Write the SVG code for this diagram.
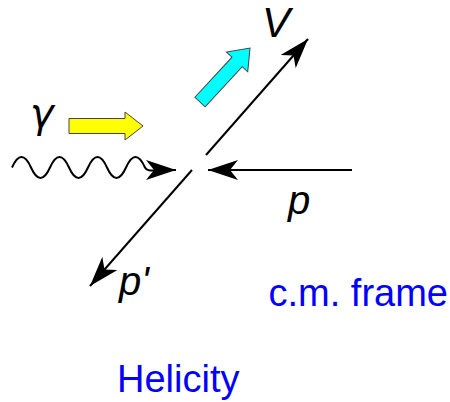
<svg xmlns="http://www.w3.org/2000/svg" width="450" height="402" viewBox="0 0 450 402">
<style>
.ln{fill:none;stroke:#000;stroke-width:2}
.lbl{font-family:"Liberation Sans",Arial,sans-serif;font-style:italic;fill:#000}
.blue{font-family:"Liberation Sans",Arial,sans-serif;fill:#0000ff;font-size:38px}
</style>
<defs>
<marker id="ah" markerUnits="userSpaceOnUse" viewBox="0 0 30 20" refX="30" refY="10" markerWidth="30" markerHeight="20" orient="auto">
<path d="M30,10 L0,0 L8,10 L0,20 Z" fill="#000"/>
</marker>
</defs>
<rect width="450" height="402" fill="#fff"/>
<g id="connectors">
<path class="ln" d="M12,167.5 C18.3,153.5 24.7,153.5 31,167.5 C37.3,181.5 43.7,181.5 50,167.5 C56.3,153.5 62.7,153.5 69,167.5 C75.3,181.5 81.7,181.5 88,167.5 C94.3,153.5 100.7,153.5 107,167.5 C113.3,181.5 119.7,181.5 126,167.5 C132.3,153.5 138.7,153.5 145,167.5 C147,172 152,170 176,170" marker-end="url(#ah)"/>
<line class="ln" x1="352" y1="170" x2="208" y2="170" marker-end="url(#ah)"/>
<line class="ln" x1="206" y1="155" x2="308" y2="39" marker-end="url(#ah)"/>
<line class="ln" x1="192" y1="170" x2="90" y2="286" marker-end="url(#ah)"/>
</g>
<g id="photon-spin">
<polygon points="69,118.5 125,118.5 125,112 143,126 125,140 125,133.5 69,133.5" fill="#ffff00" stroke="#444" stroke-width="1"/>
</g>
<g id="meson-spin">
<polygon transform="translate(200,102) rotate(-47.2)" points="0,-7 54.6,-7 54.6,-14.5 73.6,0 54.6,14.5 54.6,7 0,7" fill="#00ffff" stroke="#444" stroke-width="1"/>
</g>
<g id="gamma"><text x="30" y="127" font-size="40" font-family="'DejaVu Sans',sans-serif" font-style="italic" fill="#000">γ</text></g>
<g id="V"><text class="lbl" x="262" y="37" font-size="42">V</text></g>
<g id="p"><text class="lbl" x="288" y="214" font-size="40">p</text></g>
<g id="pprime"><text class="lbl" x="119" y="295" font-size="40">p'</text></g>
<g id="frame"><text class="blue" x="268.5" y="306">c.m. frame</text></g>
<g id="helicity"><text class="blue" x="117" y="392">Helicity</text></g>
</svg>
